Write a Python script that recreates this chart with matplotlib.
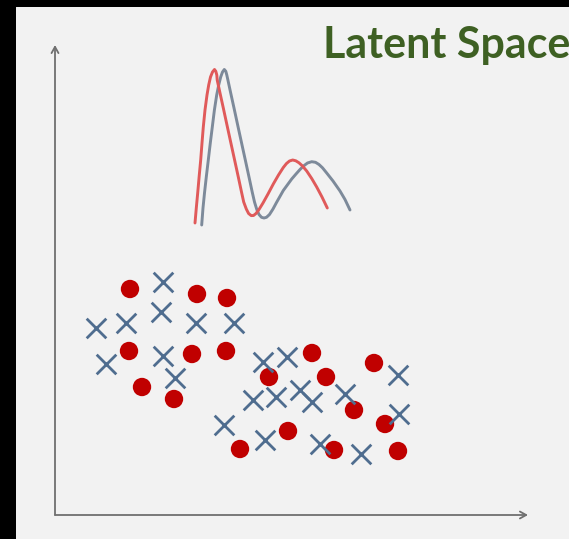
import matplotlib
matplotlib.use("Agg")
import matplotlib.pyplot as plt

# Latent-space coordinates (origin at the axes corner)
red_x = [75, 142, 172, 74, 137, 171, 87, 119, 214, 257, 271, 319, 299, 330, 233, 185, 279, 343]
red_y = [226, 221, 217, 164, 161, 164, 128, 116, 138, 162, 138, 152, 105, 91, 84, 66, 65, 64]

cross_x = [108, 106, 41, 71, 141, 179, 51, 108, 120, 208, 232, 198, 221, 245, 257, 290, 343, 344,
           169, 210, 265, 306]
cross_y = [233, 203, 187, 192, 192, 192, 151, 159, 137, 153, 158, 115, 118, 125, 113, 121, 140, 101,
           90, 75, 71, 61]

# Distribution curves drawn above the clusters
red_curve_x = [140, 141.3, 142.7, 144.2, 145.7, 147, 148.3, 150, 152, 153.7, 155.5, 157.5, 159.5,
               160.8, 161.8, 162.2, 165, 168.3, 172.4, 176.1, 179.6, 183.3, 186.5, 188.7, 191.3,
               193.6, 196.2, 198.5, 201, 204, 208, 213, 218.3, 223.5, 228.3, 231.5, 234.5, 237.7,
               240.8, 244, 247.5, 251.7, 256.7, 261.7, 267, 272.3]
red_curve_y = [292, 307, 322, 339, 355, 372, 388, 405, 420, 430, 438, 443, 445.5, 443.7, 440, 435,
               422, 407, 388, 371, 355, 338, 323, 313, 306, 301.5, 299.4, 299.5, 301.5, 305.5, 312,
               321, 331, 340, 347.5, 351.5, 354, 355, 354.2, 352.2, 349, 344, 336.5, 328, 318, 307]

gray_curve_x = [146.7, 148, 149.5, 151.4, 153.3, 155.3, 157.3, 159.4, 161.7, 163.7, 165.7, 167.5,
                169.3, 170.8, 171.8, 172.9, 175.7, 179, 183.1, 186.8, 190.3, 194, 197.2, 199.5,
                201.8, 204, 206.5, 209, 211.5, 214.5, 218, 221.5, 228.3, 236.7, 241, 245, 248.5,
                252.5, 256.7, 260.5, 264, 267.5, 271.7, 278, 285, 290, 295]
gray_curve_y = [290, 307, 322, 339, 355, 372, 388, 405, 420, 430, 438, 443, 445.5, 443.7, 440, 435,
                422, 407, 388, 371, 355, 338, 323, 313, 305.5, 300.5, 297.7, 297, 297.7, 300.5, 306,
                312.5, 324.5, 336, 341, 345.5, 349, 352, 353.3, 352.7, 350.5, 347.2, 342, 334, 324,
                315.5, 305]

title = "Latent Space"

W, H = 569, 539
fig = plt.figure(figsize=(W / 100, H / 100), dpi=100, facecolor="black")

# light panel
left_px, top_px = 16, 7
ax = fig.add_axes([left_px / W, 0, (W - left_px) / W, (H - top_px) / H])
ax.set_facecolor("#f2f2f2")
ox, oy = 55, 515
ax.set_xlim(left_px - ox, W - ox)
ax.set_ylim(oy - H, oy - top_px)
ax.axis("off")
ax.add_patch(plt.Rectangle((0, 0), 1, 1, transform=ax.transAxes, color="#f2f2f2", zorder=0))

# axis arrows
arrow_kw = dict(arrowstyle="->,head_length=0.45,head_width=0.25", color="#707070", lw=1.3,
                shrinkA=0, shrinkB=0)
ax.annotate("", xy=(0, 470), xytext=(0, 0), arrowprops=arrow_kw)
ax.annotate("", xy=(473, 0), xytext=(0, 0), arrowprops=arrow_kw)

# curves
ax.plot(gray_curve_x, gray_curve_y, color="#7d8a9a", lw=2.1, solid_capstyle="round",
        solid_joinstyle="round", zorder=3)
ax.plot(red_curve_x, red_curve_y, color="#e05a5a", lw=2.1, solid_capstyle="round",
        solid_joinstyle="round", zorder=3)

# clusters
ax.scatter(red_x, red_y, s=175, color="#c00000", edgecolors="none", zorder=4)
ax.scatter(cross_x, cross_y, s=200, marker="x", color="#4f6d8f", linewidths=2.0, zorder=5)

fig.text(323 / W, 1 - 58 / H, title, fontsize=31, fontweight="bold", family="Lato",
         color="#3e6023", ha="left", va="baseline")

fig.savefig("out.png", dpi=100, facecolor="black")
